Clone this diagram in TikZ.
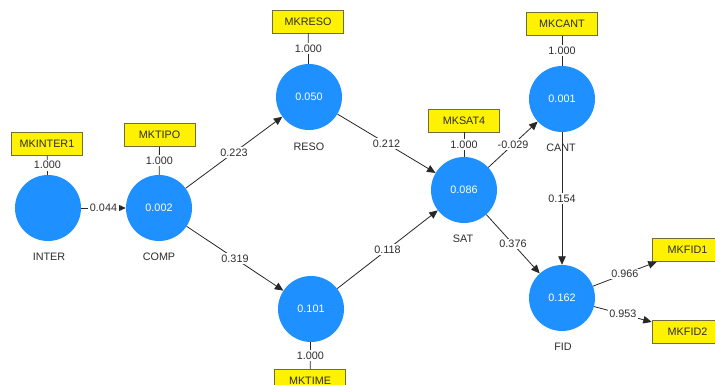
\documentclass[tikz,border=0pt]{standalone}
\usepackage{fontspec}
\setmainfont{Liberation Sans}
\usetikzlibrary{arrows.meta}
\definecolor{lvblue}{RGB}{30,144,255}
\definecolor{boxborder}{RGB}{110,110,60}
\definecolor{edgecol}{RGB}{40,40,40}
\definecolor{txtcol}{RGB}{45,45,45}
\tikzset{
  lv/.style={circle, fill=lvblue, minimum size=66pt, inner sep=0pt, text=white, font=\fontsize{10.8}{12}\selectfont},
  ind/.style={rectangle, fill=yellow, draw=boxborder, line width=0.5pt, minimum width=71pt, minimum height=23pt, inner sep=0pt, text=txtcol, font=\fontsize{10.8}{12}\selectfont},
  arr/.style={draw=edgecol, line width=0.8pt, -{Triangle[length=8.5pt,width=7.5pt]}},
  link/.style={draw=edgecol, line width=0.8pt},
  lbl/.style={fill=white, inner sep=1.5pt, text=txtcol, font=\fontsize{10.8}{12}\selectfont},
  nm/.style={text=txtcol, font=\fontsize{10.8}{12}\selectfont, inner sep=0pt}
}
\begin{document}
\begin{tikzpicture}[x=1pt,y=-1pt]
\useasboundingbox[fill=white] (0,0) rectangle (715,385);
% latent variables
\node[lv] (INTER) at (48,208) {};
\node[lv] (COMP) at (159,208) {0.002};
\node[lv] (RESO) at (309,97) {0.050};
\node[lv] (TIME) at (311,309) {0.101};
\node[lv] (SAT) at (464,190) {0.086};
\node[lv] (CANT) at (562,99) {0.001};
\node[lv] (FID) at (562,298) {0.162};
% names
\node[nm] (nINTER) at (49,257) {INTER};
\node[nm] (nCOMP) at (159,257) {COMP};
\node[nm] (nRESO) at (309,147) {RESO};
\node[nm] (nSAT) at (463,239) {SAT};
\node[nm] (nCANT) at (561,148) {CANT};
\node[nm] (nFID) at (563,347) {FID};
% indicators
\node[ind] (MKINTER1) at (47,144) {MKINTER1};
\node[ind] (MKTIPO) at (159.5,135) {MKTIPO};
\node[ind] (MKRESO) at (308,21.5) {MKRESO};
\node[ind] (MKTIME) at (310,380.5) {MKTIME};
\node[ind] (MKSAT4) at (464,120.5) {MKSAT4};
\node[ind] (MKCANT) at (562,24) {MKCANT};
\node[ind] (MKFID1) at (687.5,250) {MKFID1};
\node[ind] (MKFID2) at (687.5,331.5) {MKFID2};
% indicator links
\draw[link] (MKINTER1) -- node[lbl]{1.000} (INTER);
\draw[link] (MKTIPO) -- node[lbl]{1.000} (COMP);
\draw[link] (MKRESO) -- node[lbl]{1.000} (RESO);
\draw[link] (MKTIME) -- node[lbl]{1.000} (TIME);
\draw[link] (MKSAT4) -- node[lbl]{1.000} (SAT);
\draw[link] (MKCANT) -- node[lbl]{1.000} (CANT);
\draw[arr] (FID) -- node[lbl]{0.966} (MKFID1);
\draw[arr] (FID) -- node[lbl]{0.953} (MKFID2);
% paths
\draw[arr] (INTER) -- node[lbl]{0.044} (COMP);
\draw[arr] (COMP) -- node[lbl]{0.223} (RESO);
\draw[arr] (COMP) -- node[lbl]{0.319} (TIME);
\draw[arr] (RESO) -- node[lbl]{0.212} (SAT);
\draw[arr] (TIME) -- node[lbl]{0.118} (SAT);
\draw[arr] (SAT) -- node[lbl]{-0.029} (CANT);
\draw[arr] (SAT) -- node[lbl]{0.376} (FID);
\draw[arr] (CANT) -- node[lbl]{0.154} (FID);
\end{tikzpicture}
\end{document}
